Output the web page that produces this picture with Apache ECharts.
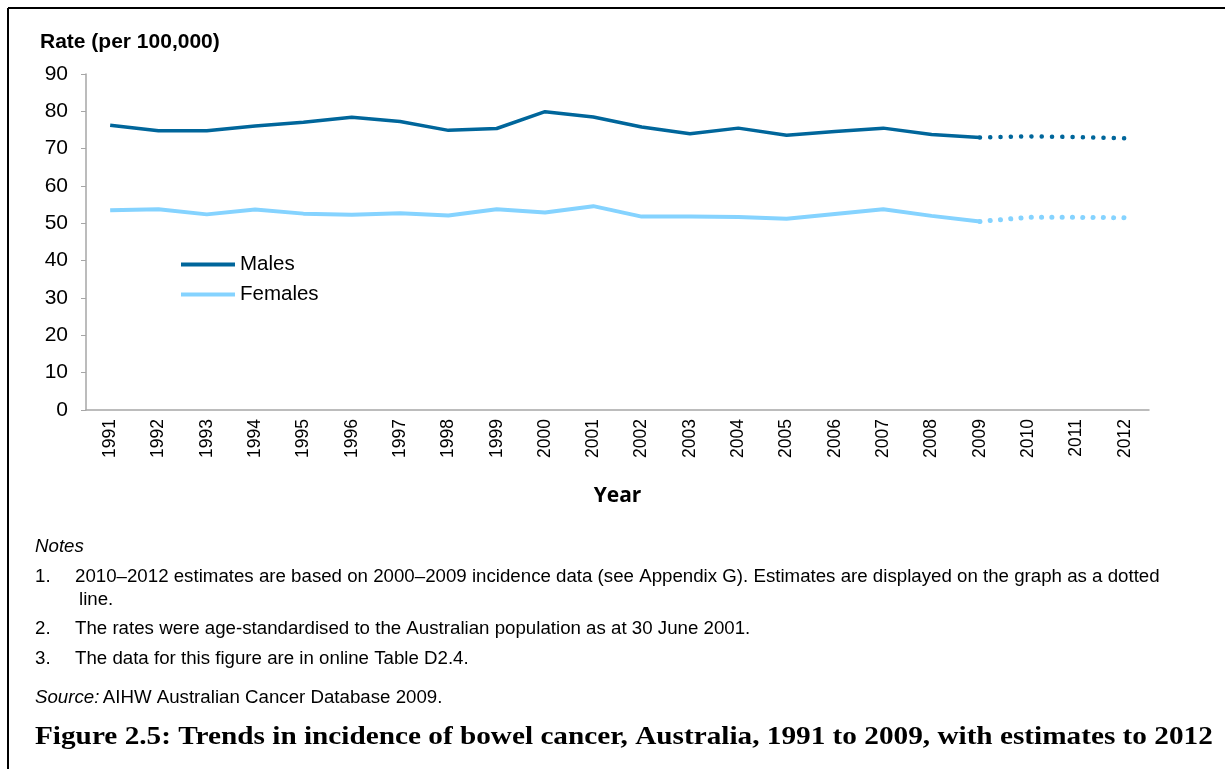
<!DOCTYPE html>
<html>
<head>
<meta charset="utf-8">
<script src="https://cdn.jsdelivr.net/npm/echarts@6/dist/echarts.min.js"></script>
<style>
html,body{margin:0;padding:0;background:#fff;}
#chart{width:1225px;height:769px;}
</style>
</head>
<body>
<div id="chart"></div>
<script>
var years = ['1991','1992','1993','1994','1995','1996','1997','1998','1999','2000','2001','2002','2003','2004','2005','2006','2007','2008','2009','2010','2011','2012'];
var malesObserved = [76.3,74.8,74.8,76.1,77.1,78.4,77.3,74.9,75.4,79.9,78.5,75.8,74.0,75.5,73.6,74.6,75.5,73.8,73.0,null,null,null];
var femalesObserved = [53.5,53.8,52.4,53.7,52.6,52.3,52.7,52.1,53.8,52.9,54.6,51.8,51.8,51.7,51.2,52.5,53.8,52.0,50.5,null,null,null];
var malesEstimate = [null,null,null,null,null,null,null,null,null,null,null,null,null,null,null,null,null,null,73.0,73.3,73.1,72.8];
var femalesEstimate = [null,null,null,null,null,null,null,null,null,null,null,null,null,null,null,null,null,null,50.5,51.6,51.6,51.5];
var yTicks = [0,10,20,30,40,50,60,70,80,90];

var MALE = '#00669b';
var FEMALE = '#85d3ff';
var chart = echarts.init(document.getElementById('chart'), null, {renderer:'canvas'});
var sans = 'Liberation Sans, Arial, sans-serif';
var NF = 18.7;
var notes = [
  {t:'1.', x:35, y:577},
  {t:'2010\u20132012 estimates are based on 2000\u20132009 incidence data (see Appendix G). Estimates are displayed on the graph as a dotted', x:75, y:577},
  {t:'line.', x:79, y:600},
  {t:'2.', x:35, y:629},
  {t:'The rates were age-standardised to the Australian population as at 30 June 2001.', x:75, y:629},
  {t:'3.', x:35, y:659},
  {t:'The data for this figure are in online Table D2.4.', x:75, y:659}
];
var graphics = [
  {type:'line', shape:{x1:8,y1:8,x2:1225,y2:8}, style:{stroke:'#000',lineWidth:2}},
  {type:'line', shape:{x1:8,y1:8,x2:8,y2:769}, style:{stroke:'#000',lineWidth:2}},
  {type:'text', x:40, y:42, style:{text:'Rate (per 100,000)', font:'bold 21px '+sans, fill:'#000', textVerticalAlign:'middle'}},
  {type:'text', x:35, y:547, style:{text:'Notes', font:'italic '+NF+'px '+sans, fill:'#000', textVerticalAlign:'middle'}},
  {type:'text', x:35, y:698, style:{rich:{i:{fontStyle:'italic',fontSize:NF,fontFamily:sans},n:{fontSize:NF,fontFamily:sans}}, text:'{i|Source:} {n|AIHW Australian Cancer Database 2009.}', fill:'#000', textVerticalAlign:'middle'}},
  {type:'text', x:35, y:737, scaleX:1.125, originX:0, originY:0,
    style:{text:'Figure 2.5: Trends in incidence of bowel cancer, Australia, 1991 to 2009, with estimates to 2012', font:'bold 26px Liberation Serif, serif', fill:'#000', textVerticalAlign:'middle'}}
];
notes.forEach(function(n){
  graphics.push({type:'text', x:n.x, y:n.y, style:{text:n.t, font:NF+'px '+sans, fill:'#000', textVerticalAlign:'middle'}});
});

chart.setOption({
  animation:false,
  backgroundColor:'#fff',
  grid:{left:86, right:76, top:74, bottom:359, containLabel:false},
  legend:{
    data:[{name:'Males', icon:'rect'},{name:'Females', icon:'rect'}],
    orient:'vertical', left:176, top:249,
    itemWidth:54, itemHeight:4, itemGap:9,
    textStyle:{fontFamily:sans, fontSize:20.5, color:'#000'}
  },
  xAxis:{
    type:'category', data:years, boundaryGap:true,
    name:'Year', nameLocation:'middle', nameGap:76,
    nameTextStyle:{fontFamily:'Open Sans, sans-serif', fontWeight:'bold', fontSize:21, color:'#000'},
    axisLine:{lineStyle:{color:'#a6a6a6', width:1.5}},
    axisTick:{alignWithLabel:true, length:5, lineStyle:{color:'#a6a6a6'}},
    axisLabel:{rotate:90, fontFamily:sans, fontSize:17.5, color:'#000', margin:9}
  },
  yAxis:{
    type:'value', min:0, max:90, interval:10,
    axisLine:{show:true, lineStyle:{color:'#a6a6a6', width:1.5}},
    axisTick:{show:true, length:5, lineStyle:{color:'#a6a6a6'}},
    axisLabel:{fontFamily:sans, fontSize:21, color:'#000', margin:18,
      formatter:function(v){return yTicks.indexOf(v)>=0?String(v):'';}},
    splitLine:{show:false}
  },
  series:[
    {name:'Males', type:'line', data:malesObserved, symbol:'none',
      lineStyle:{color:MALE, width:3.5}, itemStyle:{color:MALE}, z:3},
    {name:'Females', type:'line', data:femalesObserved, symbol:'none',
      lineStyle:{color:FEMALE, width:4}, itemStyle:{color:FEMALE}, z:3},
    {name:'Males (estimate)', type:'line', data:malesEstimate, symbol:'none',
      lineStyle:{color:MALE, width:4.5, type:[0.1,10.2], cap:'round'}, itemStyle:{color:MALE}},
    {name:'Females (estimate)', type:'line', data:femalesEstimate, symbol:'none',
      lineStyle:{color:FEMALE, width:5, type:[0.1,10.2], cap:'round'}, itemStyle:{color:FEMALE}}
  ],
  graphic:graphics
});
</script>
</body>
</html>
